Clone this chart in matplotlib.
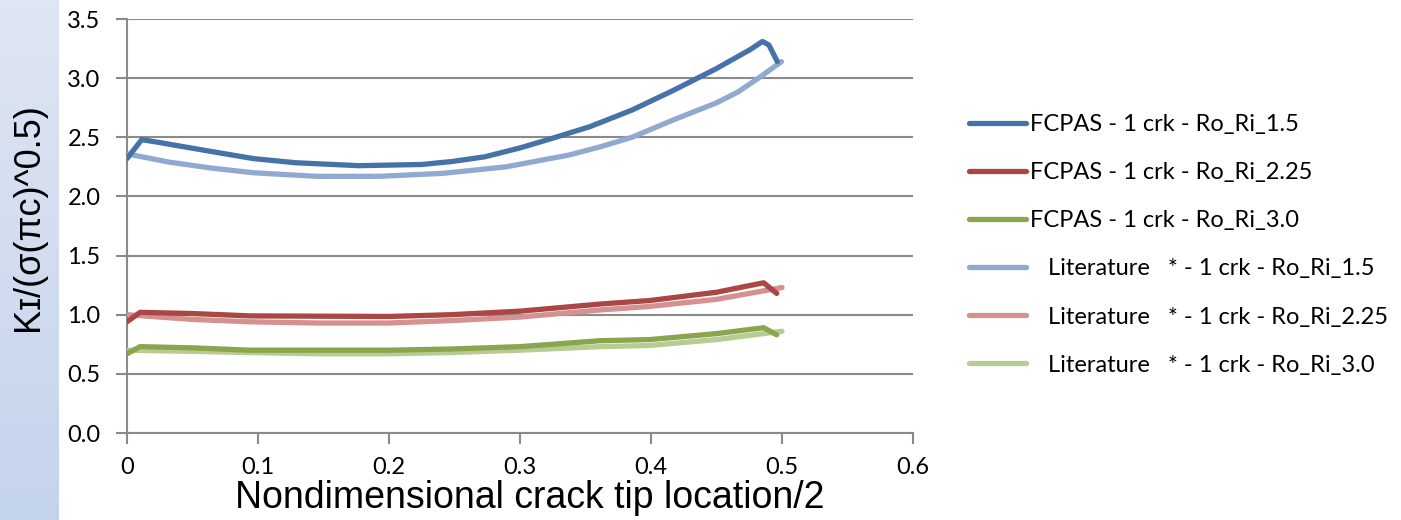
import matplotlib
matplotlib.use('Agg')
import matplotlib.pyplot as plt
import numpy as np

# FCPAS results
x_fc15 = [0, 0.0112, 0.0225, 0.0643, 0.0964, 0.1285, 0.1767, 0.2249, 0.2479, 0.2731, 0.3, 0.3213, 0.3534,
          0.3855, 0.4177, 0.4498, 0.4755, 0.4851, 0.49, 0.4964]
y_fc15 = [2.32, 2.48, 2.46, 2.38, 2.32, 2.285, 2.26, 2.27, 2.295, 2.335, 2.41, 2.48, 2.59,
          2.73, 2.90, 3.08, 3.24, 3.31, 3.28, 3.14]
x_fc225 = [0, 0.01, 0.05, 0.094, 0.2, 0.247, 0.3, 0.361, 0.399, 0.45, 0.486, 0.496]
y_fc225 = [0.94, 1.02, 1.01, 0.99, 0.985, 1.00, 1.03, 1.09, 1.12, 1.19, 1.27, 1.18]
x_fc30 = [0, 0.01, 0.05, 0.094, 0.2, 0.247, 0.3, 0.361, 0.399, 0.45, 0.486, 0.496]
y_fc30 = [0.67, 0.73, 0.72, 0.70, 0.70, 0.71, 0.73, 0.78, 0.79, 0.84, 0.89, 0.83]

# literature values
x_lit15 = [0, 0.0321, 0.0643, 0.0964, 0.1446, 0.1928, 0.241, 0.2892, 0.3374, 0.3614, 0.3855, 0.4177,
           0.4498, 0.4659, 0.482, 0.4996]
y_lit15 = [2.36, 2.29, 2.24, 2.20, 2.17, 2.17, 2.195, 2.25, 2.35, 2.42, 2.50, 2.65,
           2.79, 2.88, 3.00, 3.14]
x_lit225 = [0, 0.05, 0.094, 0.145, 0.2, 0.247, 0.3, 0.361, 0.399, 0.45, 0.5]
y_lit225 = [1.00, 0.96, 0.94, 0.93, 0.93, 0.95, 0.98, 1.04, 1.07, 1.13, 1.23]
x_lit30 = [0, 0.05, 0.094, 0.145, 0.2, 0.247, 0.3, 0.361, 0.399, 0.45, 0.5]
y_lit30 = [0.70, 0.69, 0.68, 0.67, 0.67, 0.68, 0.70, 0.73, 0.74, 0.79, 0.86]

labels = ['FCPAS - 1 crk - Ro_Ri_1.5', 'FCPAS - 1 crk - Ro_Ri_2.25', 'FCPAS - 1 crk - Ro_Ri_3.0',
          '   Literature   * - 1 crk - Ro_Ri_1.5', '   Literature   * - 1 crk - Ro_Ri_2.25',
          '   Literature   * - 1 crk - Ro_Ri_3.0']
xticks = [0, 0.1, 0.2, 0.3, 0.4, 0.5, 0.6]
xticklabels = ['0', '0.1', '0.2', '0.3', '0.4', '0.5', '0.6']
yticks = [0.0, 0.5, 1.0, 1.5, 2.0, 2.5, 3.0, 3.5]

fig = plt.figure(figsize=(14.01, 5.2), dpi=100)

# light blue strip on the left
strip = fig.add_axes([0, 0, 58/1401, 1])
grad = np.linspace(0, 1, 256).reshape(-1, 1)
c_top = np.array([0xdf, 0xe6, 0xf3]) / 255
c_bot = np.array([0xc4, 0xd3, 0xec]) / 255
img = c_top[None, None, :] * (1 - grad[:, :, None]) + c_bot[None, None, :] * grad[:, :, None]
strip.imshow(img, aspect='auto', extent=[0, 1, 0, 1])
strip.axis('off')

ax = fig.add_axes([127/1401, 1-433/520, (913-127)/1401, (433-19)/520])
lw = 3.8
kw = dict(lw=lw, solid_joinstyle='round', solid_capstyle='round')
lines = []
lines += ax.plot(x_fc15, y_fc15, color='#4572a7', zorder=4, **kw)
lines += ax.plot(x_fc225, y_fc225, color='#aa4643', zorder=4, **kw)
lines += ax.plot(x_fc30, y_fc30, color='#89a54e', zorder=4, **kw)
lines += ax.plot(x_lit15, y_lit15, color='#91a9d0', zorder=3, **kw)
lines += ax.plot(x_lit225, y_lit225, color='#d49190', zorder=3, **kw)
lines += ax.plot(x_lit30, y_lit30, color='#b7cc92', zorder=3, **kw)

ax.set_xlim(0, 0.6)
ax.set_ylim(0, 3.5)
ax.set_xticks(xticks)
ax.set_xticklabels(xticklabels)
ax.set_yticks(yticks)
ax.set_yticklabels(['%.1f' % v for v in yticks])
ax.yaxis.grid(True, color='#8a8a8a', lw=1.5)
ax.set_axisbelow(True)
for s in ['top', 'right']:
    ax.spines[s].set_visible(False)
for s in ['left', 'bottom']:
    ax.spines[s].set_color('#8a8a8a')
    ax.spines[s].set_linewidth(1.5)
ax.tick_params(axis='both', colors='#8a8a8a', width=1.5, length=8, labelcolor='black', labelsize=17)
ax.tick_params(axis='x', pad=9)
ax.tick_params(axis='y', pad=11)
for t in ax.get_xticklabels() + ax.get_yticklabels():
    t.set_family('Lato')

ax.set_xlabel('Nondimensional crack tip location/2', fontsize=27, family='Liberation Sans')
ax.xaxis.set_label_coords((529.5-127)/786, (433-480)/414)
ax.set_ylabel('K\u026a/(\u03c3(\u03c0c)^0.5)', fontsize=26, family=['Liberation Sans', 'DejaVu Sans'])
ax.yaxis.set_label_coords((46-127)/786, (433-217)/414)

leg = fig.legend(lines, labels, loc='upper left', bbox_to_anchor=(969/1401, 1-114/520), frameon=False,
                 prop={'family': 'Lato', 'size': 17}, handlelength=2.4, handletextpad=0.2,
                 labelspacing=1.15, borderpad=0, borderaxespad=0)

fig.savefig('out.png', dpi=100)
